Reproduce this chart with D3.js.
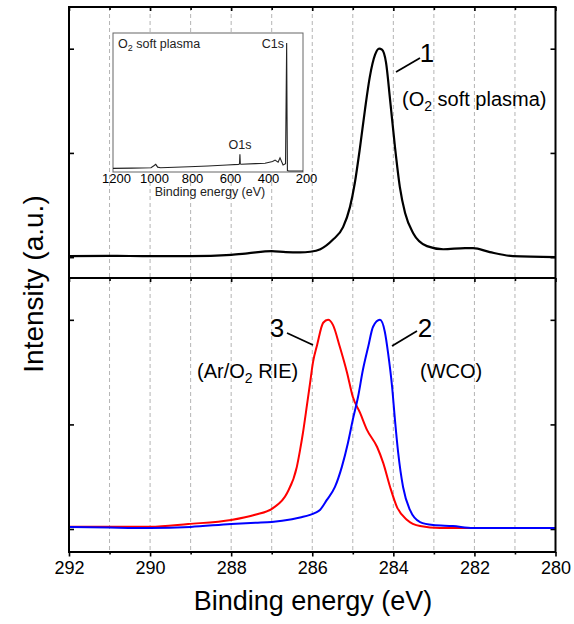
<!DOCTYPE html>
<html>
<head>
<meta charset="utf-8">
<script src="https://cdn.jsdelivr.net/npm/d3@7"></script>
<style>
  body { margin: 0; background: #fff; }
  svg text { font-family: "Liberation Sans", Arial, sans-serif; fill: #000; }
</style>
</head>
<body>
<svg id="chart" width="574" height="624"></svg>
<script>
// Binding energy (eV) / normalised intensity
var o2Plasma = [
  [292.0, 0.005], [291.0, 0.006], [290.0, 0.005], [289.0, 0.005], [288.0, 0.011],
  [287.6, 0.018], [287.0, 0.029], [286.65, 0.024], [286.3, 0.023], [286.05, 0.026],
  [285.8, 0.038], [285.5, 0.082], [285.24, 0.144], [285.07, 0.24], [284.95, 0.356],
  [284.82, 0.529], [284.7, 0.707], [284.58, 0.865], [284.45, 0.971], [284.35, 1.0],
  [284.28, 0.995], [284.18, 0.933], [284.08, 0.755], [283.96, 0.529], [283.84, 0.337],
  [283.71, 0.212], [283.51, 0.115], [283.17, 0.053], [282.77, 0.038], [282.23, 0.043],
  [282.03, 0.043], [281.62, 0.024], [281.05, 0.005], [280.0, 0.0]
];
var wco = [
  [292.0, 0.010], [291.0, 0.007], [290.0, 0.005], [289.0, 0.010], [288.0, 0.024],
  [287.4, 0.030], [287.0, 0.034], [286.5, 0.047], [286.3, 0.055], [285.93, 0.077],
  [285.81, 0.091], [285.64, 0.139], [285.44, 0.201], [285.27, 0.297], [285.12, 0.411],
  [285.0, 0.522], [284.87, 0.632], [284.75, 0.761], [284.62, 0.871], [284.5, 0.967],
  [284.33, 1.0], [284.21, 0.943], [284.13, 0.842], [284.03, 0.679], [283.96, 0.522],
  [283.88, 0.364], [283.76, 0.201], [283.59, 0.091], [283.34, 0.033], [283.02, 0.019],
  [282.53, 0.014], [282.03, 0.005], [280.0, 0.005]
];
var arO2Rie = [
  [292.0, 0.011], [291.0, 0.011], [290.0, 0.011], [289.06, 0.024], [288.0, 0.043],
  [287.41, 0.068], [286.97, 0.100], [286.62, 0.172], [286.38, 0.297], [286.3, 0.378],
  [286.23, 0.459], [286.13, 0.593], [286.06, 0.689], [285.98, 0.799], [285.88, 0.880],
  [285.73, 0.986], [285.61, 1.0], [285.49, 0.976], [285.32, 0.871], [285.14, 0.746],
  [285.0, 0.632], [284.82, 0.555], [284.65, 0.474], [284.4, 0.392], [284.25, 0.316],
  [284.08, 0.201], [283.91, 0.105], [283.66, 0.043], [283.34, 0.014], [282.85, 0.005],
  [280.0, 0.005]
];
// survey spectrum in the inset
var survey = [
  [1200, 0.026], [1100, 0.028], [1000, 0.031], [985, 0.045], [975, 0.055], [965, 0.035],
  [950, 0.031], [800, 0.038], [700, 0.043], [600, 0.050], [540, 0.055], [534, 0.058],
  [532, 0.127], [530, 0.058], [525, 0.056], [450, 0.060], [400, 0.063], [360, 0.075],
  [347, 0.086], [331, 0.070], [321, 0.102], [305, 0.050], [292, 0.060], [286, 0.928],
  [284, 0.4], [282, 0.01], [275, 0.007], [200, 0.007]
];
var xMajorTicks = [292, 290, 288, 286, 284, 282, 280];
var xMinorTicks = [291, 289, 287, 285, 283, 281];
var yTicks = [0, 0.5, 1];
var insetTicks = [1200, 1000, 800, 600, 400, 200];

var svg = d3.select("#chart");
// plot frame (pixels)
var pLeft = 69, pRight = 555.5, pTop = 7, pMid = 278, pBottom = 552;

var x = d3.scaleLinear().domain([292, 280]).range([pLeft, pRight]);
var yTop = d3.scaleLinear().domain([-0.1, 1.2]).range([pMid, pTop]);
var yBot = d3.scaleLinear().domain([-0.11, 1.2]).range([pBottom, pMid]);

// dashed grid at every eV
svg.append("g").selectAll("line")
  .data(xMinorTicks.concat([290, 288, 286, 284, 282]))
  .enter().append("line")
  .attr("x1", function (d) { return x(d); })
  .attr("x2", function (d) { return x(d); })
  .attr("y1", pTop).attr("y2", pBottom)
  .style("stroke", "#b4b4b4")
  .style("stroke-width", 1)
  .style("stroke-dasharray", "4,3");

function noLabels(axis) { return axis.tickFormat(""); }

// x ticks: top border, divider, bottom
function xTicks(yPos, majorLen, minorLen, labels) {
  var gMaj = svg.append("g").attr("transform", "translate(0," + yPos + ")")
    .call(d3.axisBottom(x).tickValues(xMajorTicks).tickSize(majorLen).tickPadding(5)
      .tickFormat(labels ? d3.format("d") : ""));
  var gMin = svg.append("g").attr("transform", "translate(0," + yPos + ")")
    .call(noLabels(d3.axisBottom(x).tickValues(xMinorTicks).tickSize(minorLen)));
  [gMaj, gMin].forEach(function (g) {
    g.select(".domain").remove();
    g.selectAll(".tick line").style("stroke", "#000").style("stroke-width", 1.6);
  });
  gMaj.selectAll(".tick text").style("font-size", "18px").attr("fill", "#000");
}
xTicks(pTop, 4, 3, false);
xTicks(pMid, 4, 3, false);
xTicks(pBottom, 4.5, 2.5, true);

// y ticks, inward on both sides
[yTop, yBot].forEach(function (ys) {
  var gl = svg.append("g").attr("transform", "translate(" + pLeft + ",0)")
    .call(noLabels(d3.axisRight(ys).tickValues(yTicks).tickSize(5)));
  var gr = svg.append("g").attr("transform", "translate(" + pRight + ",0)")
    .call(noLabels(d3.axisLeft(ys).tickValues(yTicks).tickSize(5)));
  [gl, gr].forEach(function (g) {
    g.select(".domain").remove();
    g.selectAll(".tick line").style("stroke", "#000").style("stroke-width", 1.6);
  });
});

// series
function lineFor(yScale) {
  return d3.line()
    .x(function (d) { return x(d[0]); })
    .y(function (d) { return yScale(d[1]); })
    .curve(d3.curveMonotoneX);
}
svg.append("path").datum(o2Plasma).attr("d", lineFor(yTop))
  .style("fill", "none").style("stroke", "#000").style("stroke-width", 2.2);
svg.append("path").datum(arO2Rie).attr("d", lineFor(yBot))
  .style("fill", "none").style("stroke", "#ff0000").style("stroke-width", 2);
svg.append("path").datum(wco).attr("d", lineFor(yBot))
  .style("fill", "none").style("stroke", "#0000ff").style("stroke-width", 2);

// frames
svg.append("rect").attr("x", pLeft).attr("y", pTop)
  .attr("width", pRight - pLeft).attr("height", pBottom - pTop)
  .style("fill", "none").style("stroke", "#000").style("stroke-width", 2);
svg.append("line").attr("x1", pLeft).attr("x2", pRight).attr("y1", pMid).attr("y2", pMid)
  .style("stroke", "#000").style("stroke-width", 2);

// inset survey
var ix = d3.scaleLinear().domain([1200, 200]).range([113, 303]);
var iy = d3.scaleLinear().domain([0, 1]).range([172, 33]);
svg.append("rect").attr("x", 113).attr("y", 33).attr("width", 190).attr("height", 139)
  .style("fill", "#fff").style("stroke", "#666").style("stroke-width", 1);
svg.append("path").datum(survey)
  .attr("d", d3.line().x(function (d) { return ix(d[0]); }).y(function (d) { return iy(d[1]); }))
  .style("fill", "none").style("stroke", "#222").style("stroke-width", 1.1);
var gi = svg.append("g").attr("transform", "translate(0,172)")
  .call(d3.axisBottom(ix).tickValues(insetTicks).tickSize(0).tickPadding(2).tickFormat(d3.format("d")));
gi.select(".domain").remove();
gi.selectAll(".tick text").style("font-size", "13px").attr("dx", 3).attr("fill", "#222");
svg.append("text").attr("x", 210).attr("y", 196).attr("text-anchor", "middle")
  .style("font-size", "12.5px").style("fill", "#222").text("Binding energy (eV)");

var t1 = svg.append("text").attr("x", 118).attr("y", 48).style("font-size", "12.5px").style("fill", "#222");
t1.append("tspan").text("O");
t1.append("tspan").attr("dy", 3).style("font-size", "9px").text("2");
t1.append("tspan").attr("dy", -3).text(" soft plasma");
svg.append("text").attr("x", 284).attr("y", 48).attr("text-anchor", "end")
  .style("font-size", "12.5px").style("fill", "#222").text("C1s");
svg.append("text").attr("x", 240).attr("y", 149).attr("text-anchor", "middle")
  .style("font-size", "12.5px").style("fill", "#222").text("O1s");

// annotations
function leader(x1, y1, x2, y2) {
  svg.append("line").attr("x1", x1).attr("y1", y1).attr("x2", x2).attr("y2", y2)
    .style("stroke", "#000").style("stroke-width", 1.8);
}
function subText(xp, yp, before, after) {
  var t = svg.append("text").attr("x", xp).attr("y", yp).style("font-size", "20px");
  t.append("tspan").text(before);
  t.append("tspan").attr("dy", 5).style("font-size", "14px").text("2");
  t.append("tspan").attr("dy", -5).text(after);
}
leader(396, 72, 420, 58);
svg.append("text").attr("x", 427).attr("y", 62).attr("text-anchor", "middle")
  .style("font-size", "26px").text("1");
subText(402, 106, "(O", " soft plasma)");

leader(392, 346, 417, 331);
svg.append("text").attr("x", 425).attr("y", 337).attr("text-anchor", "middle")
  .style("font-size", "26px").text("2");
svg.append("text").attr("x", 420).attr("y", 378).style("font-size", "20px").text("(WCO)");

leader(287, 333, 313, 345);
svg.append("text").attr("x", 277).attr("y", 337).attr("text-anchor", "middle")
  .style("font-size", "26px").text("3");
subText(197, 378, "(Ar/O", " RIE)");

// axis titles
svg.append("text").attr("transform", "translate(43,284) rotate(-90)")
  .attr("text-anchor", "middle").style("font-size", "28px").text("Intensity (a.u.)");
svg.append("text").attr("x", 313).attr("y", 610).attr("text-anchor", "middle")
  .style("font-size", "27px").text("Binding energy (eV)");
</script>
</body>
</html>
